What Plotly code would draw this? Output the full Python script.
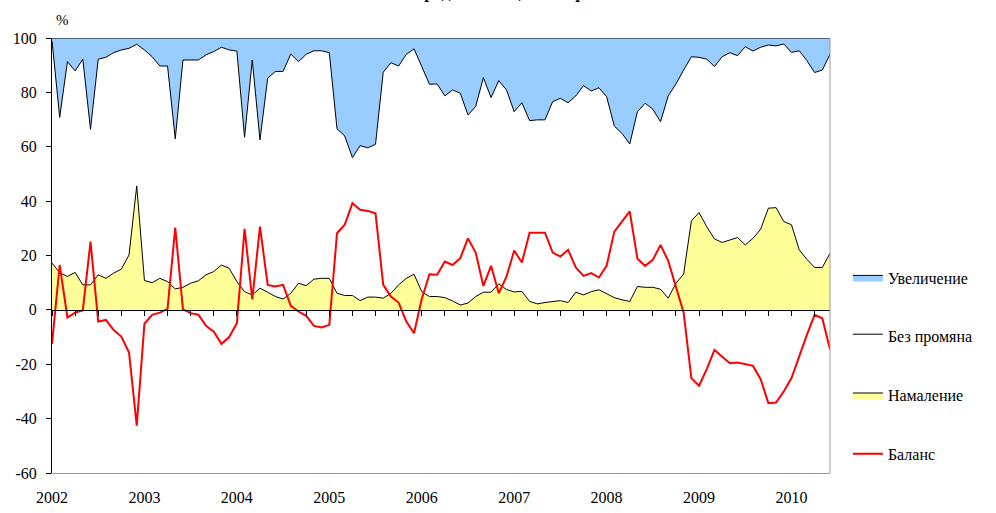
import plotly.graph_objects as go

# ---------------- data ----------------
months = [f"{y}-{m:02d}" for y in range(2002, 2011) for m in range(1, 13)][:102]

year_ticks = ["2002-01", "2003-01", "2004-01", "2005-01", "2006-01",
              "2007-01", "2008-01", "2009-01", "2010-01"]
year_labels = ["2002", "2003", "2004", "2005", "2006", "2007", "2008", "2009", "2010"]

y_ticks = [-60, -40, -20, 0, 20, 40, 60, 80, 100]
y_labels = ["-60", "-40", "-20", "0", "20", "40", "60", "80", "100"]

decrease = [17.2, 13.7, 12.3, 13.8, 9.2, 9.2, 12.9, 11.6, 13.5, 15.0, 20.2, 45.6,
            10.8, 10.0, 11.6, 10.4, 7.7, 8.3, 9.8, 10.7, 12.9, 14.1, 16.5, 15.3,
            10.4, 6.7, 5.5, 8.0, 6.5, 4.9, 4.0, 6.1, 9.8, 8.9, 11.3, 11.6,
            11.6, 6.1, 5.3, 5.3, 3.4, 4.7, 4.7, 4.3, 6.1, 9.2, 11.6, 13.1,
            6.7, 4.9, 4.9, 4.5, 3.3, 1.8, 2.5, 4.9, 6.5, 6.5, 9.6, 7.5,
            6.6, 6.8, 3.1, 2.2, 2.7, 3.1, 3.4, 2.7, 6.5, 5.5, 6.7, 7.4,
            6.1, 4.5, 3.7, 3.1, 8.6, 8.3, 8.3, 7.6, 4.3, 9.8, 13.2, 32.7,
            35.8, 30.6, 26.1, 24.8, 25.7, 26.6, 23.9, 26.3, 29.7, 37.4, 37.6, 32.5,
            31.3, 22.1, 18.6, 15.6, 15.6, 20.8]

no_change = [81.8, 57.1, 79.0, 74.1, 83.0, 57.2, 79.3, 81.3, 81.1, 80.6, 76.0, 52.1,
             84.8, 83.1, 78.1, 79.3, 55.2, 83.6, 82.1, 81.2, 80.9, 80.9, 80.1, 80.3,
             84.8, 56.8, 86.4, 54.5, 78.7, 82.8, 83.7, 88.0, 81.5, 85.1, 84.0, 83.7,
             83.0, 60.5, 58.7, 50.7, 57.0, 54.9, 56.2, 83.1, 84.8, 80.5, 82.4, 82.9,
             82.8, 78.1, 78.2, 74.2, 77.6, 77.9, 69.2, 69.9, 78.9, 71.6, 74.7, 73.4,
             66.3, 69.4, 66.5, 67.7, 67.2, 73.5, 74.4, 73.5, 72.2, 77.0, 73.8, 74.3,
             72.3, 63.1, 61.2, 57.9, 64.3, 67.7, 65.5, 61.6, 74.4, 73.3, 75.0, 60.4,
             57.1, 61.6, 63.4, 68.3, 68.9, 66.9, 72.9, 68.9, 66.9, 60.0, 59.5, 65.3,
             63.4, 73.2, 73.1, 71.7, 72.6, 73.2]

increase = [1.0, 29.2, 8.7, 12.1, 7.8, 33.6, 7.8, 7.1, 5.4, 4.4, 3.8, 2.3,
            4.4, 6.9, 10.3, 10.3, 37.1, 8.1, 8.1, 8.1, 6.2, 5.0, 3.4, 4.4,
            4.8, 36.5, 8.1, 37.5, 14.8, 12.3, 12.3, 5.9, 8.7, 6.0, 4.7, 4.7,
            5.4, 33.4, 36.0, 44.0, 39.6, 40.4, 39.1, 12.6, 9.1, 10.3, 6.0, 4.0,
            10.5, 17.0, 16.9, 21.3, 19.1, 20.3, 28.3, 25.2, 14.6, 21.9, 15.7, 19.1,
            27.1, 23.8, 30.4, 30.1, 30.1, 23.4, 22.2, 23.8, 21.3, 17.5, 19.5, 18.3,
            21.6, 32.4, 35.1, 39.0, 27.1, 24.0, 26.2, 30.8, 21.3, 16.9, 11.8, 6.9,
            7.1, 7.8, 10.5, 6.9, 5.4, 6.5, 3.2, 4.8, 3.4, 2.6, 2.9, 2.2,
            5.3, 4.7, 8.3, 12.7, 11.8, 6.0]

balance = [-12.5, 16.5, -2.8, -1.0, -0.2, 25.1, -4.3, -3.7, -7.4, -9.8, -15.7, -42.6,
           -5.1, -1.8, -1.0, 0.4, 30.3, 0.2, -1.2, -1.8, -5.9, -8.0, -12.5, -10.0,
           -4.9, 29.8, 3.9, 30.6, 9.2, 8.6, 9.2, 1.5, -0.6, -2.2, -5.9, -6.5,
           -5.5, 28.2, 31.3, 39.2, 36.8, 36.4, 35.5, 9.2, 4.9, 2.7, -4.3, -8.6,
           4.0, 13.1, 12.9, 17.8, 16.5, 19.0, 26.3, 21.1, 8.8, 16.2, 6.1, 12.2,
           21.8, 17.4, 28.4, 28.4, 28.4, 21.1, 19.6, 22.1, 15.6, 12.5, 13.5, 11.9,
           16.2, 28.8, 32.5, 36.2, 18.8, 16.2, 18.4, 23.9, 18.0, 8.6, -1.0, -25.1,
           -27.9, -21.8, -14.7, -17.2, -19.6, -19.4, -20.0, -20.6, -25.5, -34.3, -34.1, -30.0,
           -25.1, -16.9, -9.2, -1.8, -3.1, -14.5]

# ---------------- figure ----------------
FONT = "Times New Roman, Liberation Serif, serif"

fig = go.Figure()

fig.add_trace(go.Scatter(
    x=months, y=decrease, name="Намаление", stackgroup="s", mode="lines",
    line=dict(color="black", width=1), fillcolor="#FFFF99",
    legendgroup="g3", legendrank=3))
fig.add_trace(go.Scatter(
    x=months, y=no_change, name="Без промяна", stackgroup="s", mode="lines",
    line=dict(color="black", width=1), fillcolor="#FFFFFF",
    legendgroup="g2", legendrank=2))
fig.add_trace(go.Scatter(
    x=months, y=increase, name="Увеличение", stackgroup="s", mode="lines",
    line=dict(color="black", width=1), fillcolor="#99CCFF",
    legendgroup="g1", legendrank=1))
fig.add_trace(go.Scatter(
    x=months, y=balance, name="Баланс", mode="lines",
    line=dict(color="#FF0000", width=2),
    legendgroup="g4", legendrank=4))
# helper trace for the zero-crossing category axis with quarterly ticks
fig.add_trace(go.Scatter(
    x=months, y=[None] * len(months), xaxis="x2", showlegend=False,
    hoverinfo="skip", mode="lines"))

fig.update_layout(
    width=996, height=513,
    margin=dict(l=52, r=166, t=38, b=40, autoexpand=False),
    paper_bgcolor="white", plot_bgcolor="white",
    font=dict(family=FONT, size=16, color="black"),
    showlegend=True,
    legend=dict(
        x=1.023, xanchor="left", y=0.4885, yanchor="top",
        traceorder="grouped", tracegroupgap=35,
        font=dict(family=FONT, size=16, color="black"),
        bgcolor="rgba(0,0,0,0)", itemwidth=30),
    xaxis=dict(
        type="category", range=[0, len(months) - 1],
        showline=True, linecolor="#9a9a9a", linewidth=1,
        ticks="", tickvals=year_ticks, ticktext=year_labels,
        showgrid=False, zeroline=False, automargin=False,
        tickfont=dict(family=FONT, size=16, color="black"),
        ticklabelstandoff=10),
    xaxis2=dict(
        type="category", matches="x", overlaying="x",
        anchor="free", position=60 / 160, side="bottom",
        showline=True, linecolor="black", linewidth=1.3,
        ticks="outside", ticklen=5, tickcolor="black", tickwidth=1,
        dtick=3, tick0=0, showticklabels=False,
        showgrid=False, zeroline=False, automargin=False),
    yaxis=dict(
        range=[-60, 100], tickvals=y_ticks, ticktext=y_labels,
        showline=True, linecolor="black", linewidth=1,
        ticks="outside", ticklen=5, tickcolor="black",
        showgrid=False, zeroline=False, automargin=False,
        tickfont=dict(family=FONT, size=16, color="black"),
        ticklabelstandoff=6),
    shapes=[dict(type="line", xref="paper", yref="paper",
                 x0=1, x1=1, y0=0, y1=1,
                 line=dict(color="#9a9a9a", width=1))],
    annotations=[
        dict(text="%", xref="paper", yref="paper", x=0.013, y=1.041,
             showarrow=False, font=dict(family=FONT, size=15, color="black"),
             xanchor="center", yanchor="middle"),
        dict(text="<b>Очаквания за продажните цени в промишлеността</b>",
             xref="paper", yref="paper", x=0.576, y=1.0775,
             showarrow=False, font=dict(family=FONT, size=17, color="black"),
             xanchor="center", yanchor="bottom"),
    ],
)

fig.write_html("out.html", config={"displayModeBar": False},
               post_script="document.body.style.margin='0';")
